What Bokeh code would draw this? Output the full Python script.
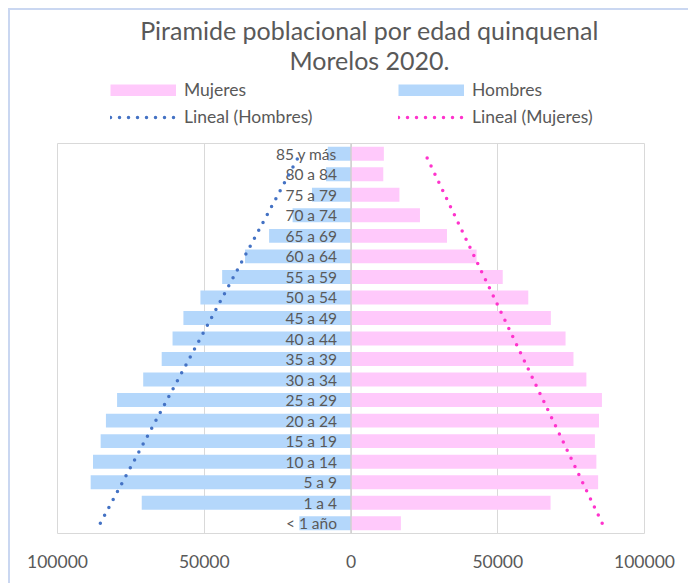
import numpy as np
from bokeh.plotting import figure
from bokeh.layouts import column
from bokeh.models import (FactorRange, Range1d, FixedTicker, Legend, LegendItem,
                          Label, Span)
from bokeh.core.properties import value
from bokeh.embed import file_html
from bokeh.resources import INLINE

# Categories bottom -> top
categorias = ["< 1 año", "1 a 4", "5 a 9", "10 a 14", "15 a 19", "20 a 24",
              "25 a 29", "30 a 34", "35 a 39", "40 a 44", "45 a 49", "50 a 54",
              "55 a 59", "60 a 64", "65 a 69", "70 a 74", "75 a 79", "80 a 84",
              "85 y más"]
hombres = [17600, 71300, 88700, 87900, 85300, 83500, 79700, 70800, 64500,
           60800, 57100, 51300, 43900, 36100, 27900, 19900, 13300, 8500, 7900]
mujeres = [17000, 68000, 84200, 83600, 83100, 84500, 85500, 80200, 75800,
           73100, 68100, 60400, 51700, 42800, 32700, 23500, 16500, 11000, 11200]
tick_vals = [-100000, -50000, 0, 50000, 100000]
tick_text = ["100000", "50000", "0", "50000", "100000"]
titulo = ["Piramide poblacional por edad quinquenal", "Morelos 2020."]

FONT = "Lato"
GREY = "#595959"
C_H = "#B4D7FB"
C_M = "#FFC9FB"
C_TH = "#4472C4"
C_TM = "#FF33CC"
BORDER = "#CAD7F1"
DOTS = dict(line_width=3.5, line_dash="0 9", line_cap="round")

# Linear trendlines (least squares over category index, like Excel "Lineal")
idx = np.arange(len(categorias))
fit_h = np.polyval(np.polyfit(idx, hombres, 1), idx)
fit_m = np.polyval(np.polyfit(idx, mujeres, 1), idx)

# ---------- header: title + legend (frame aligned with main chart) ----------
top = figure(width=678, height=125, output_backend="svg", toolbar_location=None,
             x_range=Range1d(57, 644), y_range=Range1d(135, 10),
             min_border_left=47, min_border_right=44,
             min_border_top=0, min_border_bottom=0)
top.axis.visible = False
top.grid.grid_line_color = None
top.outline_line_color = None

for txt, yy in zip(titulo, [29, 59]):
    top.add_layout(Label(x=369, y=yy, text=txt, text_align="center",
                         text_baseline="middle", text_font=FONT,
                         text_font_size="25px", text_color=GREY))

# hidden renderers that only serve as legend keys
l_sm = top.line(x=mujeres, y=idx, line_color=C_M, line_width=12,
                line_cap="butt", visible=False)
l_sh = top.line(x=hombres, y=idx, line_color=C_H, line_width=12,
                line_cap="butt", visible=False)
l_th = top.line(x=list(fit_h), y=idx, line_color=C_TH, visible=False, **DOTS)
l_tm = top.line(x=list(fit_m), y=idx, line_color=C_TM, visible=False, **DOTS)

def mk_legend(items, x, y):
    lg = Legend(items=items, location=(x, y), orientation="vertical",
                glyph_width=66, glyph_height=12, label_standoff=8,
                padding=0, margin=0, spacing=6, label_height=20,
                border_line_color=None, background_fill_alpha=0,
                inactive_fill_alpha=0,
                label_text_font=FONT, label_text_font_size="17.5px",
                label_text_color=GREY)
    top.add_layout(lg, "center")

mk_legend([LegendItem(label="Mujeres", renderers=[l_sm]),
           LegendItem(label="Lineal (Hombres)", renderers=[l_th])], 53, 8)
mk_legend([LegendItem(label="Hombres", renderers=[l_sh]),
           LegendItem(label="Lineal (Mujeres)", renderers=[l_tm])], 341, 8)

# ---------- main chart ----------
p = figure(width=678, height=448, output_backend="svg", toolbar_location=None,
           x_range=Range1d(-100000, 100000),
           y_range=FactorRange(factors=categorias, range_padding=0),
           min_border_left=47, min_border_right=44,
           min_border_top=8, min_border_bottom=50)

p.outline_line_color = "#D9D9D9"
p.outline_line_width = 1
p.xgrid.grid_line_color = "#D9D9D9"
p.xgrid.ticker = FixedTicker(ticks=tick_vals)
p.ygrid.grid_line_color = None
p.yaxis.visible = False

ax = p.xaxis[0]
ax.ticker = FixedTicker(ticks=tick_vals)
ax.major_label_overrides = {v: t for v, t in zip(tick_vals, tick_text)}
ax.axis_line_color = None
ax.major_tick_line_color = None
ax.minor_tick_line_color = None
ax.major_tick_out = 0
ax.major_label_standoff = 21
ax.major_label_text_font = FONT
ax.major_label_text_font_size = "17.5px"
ax.major_label_text_color = GREY

p.hbar(y=categorias, left=[-v for v in hombres], right=0, height=0.68,
       fill_color=C_H, line_color=None)
p.hbar(y=categorias, left=0, right=mujeres, height=0.68,
       fill_color=C_M, line_color=None)

p.add_layout(Span(location=0, dimension="height", line_color="#D0D0D0",
                  line_width=1.5))

p.text(x=0, y=categorias, text=categorias, x_offset=-14, text_align="right",
       text_baseline="middle", text_font=value(FONT), text_font_size="15.5px",
       text_color=GREY)

p.line(x=-fit_h, y=categorias, line_color=C_TH, **DOTS)
p.line(x=fit_m, y=categorias, line_color=C_TM, **DOTS)

layout = column(top, p, spacing=0,
                styles={"margin-left": "8px", "margin-top": "8px",
                        "border-left": f"2px solid {BORDER}",
                        "border-top": f"2px solid {BORDER}"})

open("out.html", "w").write(file_html(layout, INLINE))
